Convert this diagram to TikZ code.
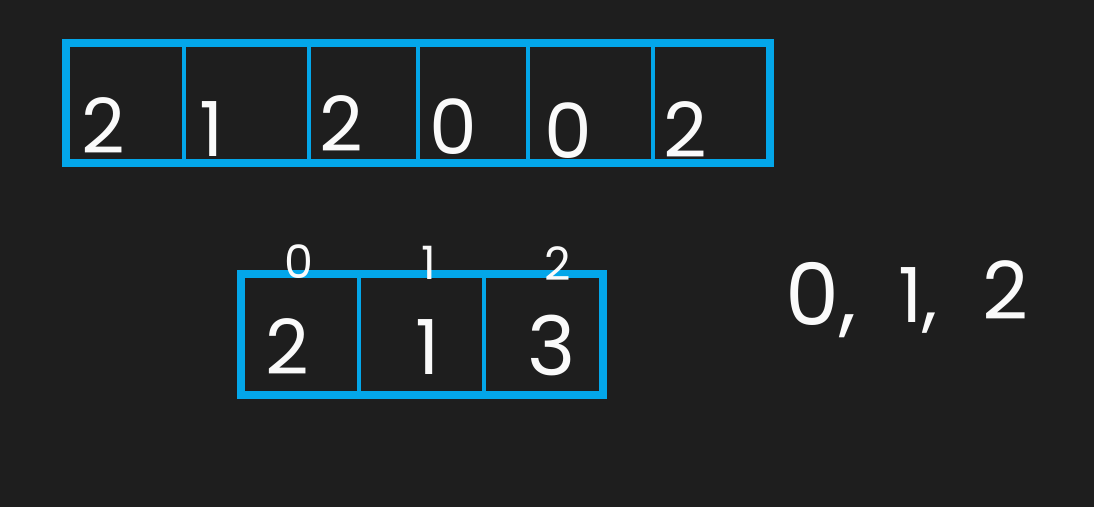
\documentclass[tikz,border=0pt]{standalone}
\usepackage{fontspec}
\setmainfont{Poppins}
\usetikzlibrary{positioning}
\usetikzlibrary{fit}
\definecolor{board}{RGB}{30,30,30}
\definecolor{arrblue}{RGB}{3,166,233}
\definecolor{chalk}{RGB}{250,250,250}

\begin{document}
\begin{tikzpicture}[
            x = 1pt, y = -1pt, % pixel units, y down
            line join = miter
        ]

        \tikzstyle{cell}=[
            draw = arrblue,
            line width = 4pt,
            outer sep = 0pt,
            inner sep = 0pt
        ]
        \tikzstyle{frame}=[
            draw = arrblue,
            line width = 8pt,
            inner sep = 0pt,
            outer sep = 0pt
        ]
        \tikzstyle{digit}=[
            text = chalk,
            inner sep = 0pt,
            font = \fontsize{76}{76}\selectfont
        ]
        \tikzstyle{index}=[digit, font = \fontsize{46}{46}\selectfont]

        \fill[board] (0,0) rectangle (1094,507);
        \useasboundingbox (0,0) rectangle (1094,507);

	% input array
        \node[cell, minimum width=117.5pt, minimum height=120pt, anchor=north west] (T1) at (66,42.5) {};
        \node[cell, minimum width=125pt, minimum height=120pt] (T2) [right=0pt of T1] {};
        \node[cell, minimum width=109.5pt, minimum height=120pt] (T3) [right=0pt of T2] {};
        \node[cell, minimum width=109.5pt, minimum height=120pt] (T4) [right=0pt of T3] {};
        \node[cell, minimum width=125pt, minimum height=120pt] (T5) [right=0pt of T4] {};
        \node[cell, minimum width=117.5pt, minimum height=120pt] (T6) [right=0pt of T5] {};
        \node[frame, fit=(T1) (T6)] (TOP) {};

        \node[digit] (V1) at (103.5,125.5) {2};
        \node[digit] (V2) at (212,129) {1};
        \node[digit] (V3) at (341,124) {2};
        \node[digit] (V4) at (453,127) {0};
        \node[digit] (V5) at (568,131) {0};
        \node[digit] (V6) at (685,130) {2};

         % count array
        \node[cell, minimum width=117.5pt, minimum height=120.5pt, anchor=north west] (C0) at (241,274) {};
        \node[cell, minimum width=125.5pt, minimum height=120.5pt] (C1) [right=0pt of C0] {};
        \node[cell, minimum width=118.5pt, minimum height=120.5pt] (C2) [right=0pt of C1] {};
        \node[frame, fit=(C0) (C2)] (CNT) {};

        \node[digit] (N0) at (287,347) {2};
        \node[digit] (N1) at (428,347) {1};
        \node[digit, font=\fontsize{82}{82}\selectfont] (N2) at (552,345) {3};

        \node[index] (I0) at (299,262) {0};
        \node[index] (I1) at (429,263) {1};
        \node[index] (I2) at (558,264) {2};

         % values
        \node[digit, font=\fontsize{86}{86}\selectfont, anchor=west] (K0) at (785,300) {0,};
        \node[digit, anchor=west] (K1) at (898,300) {1,};
        \node[digit, font=\fontsize{80}{80}\selectfont, anchor=west] (K2) at (982,290) {2};

  \end{tikzpicture}
\end{document}
